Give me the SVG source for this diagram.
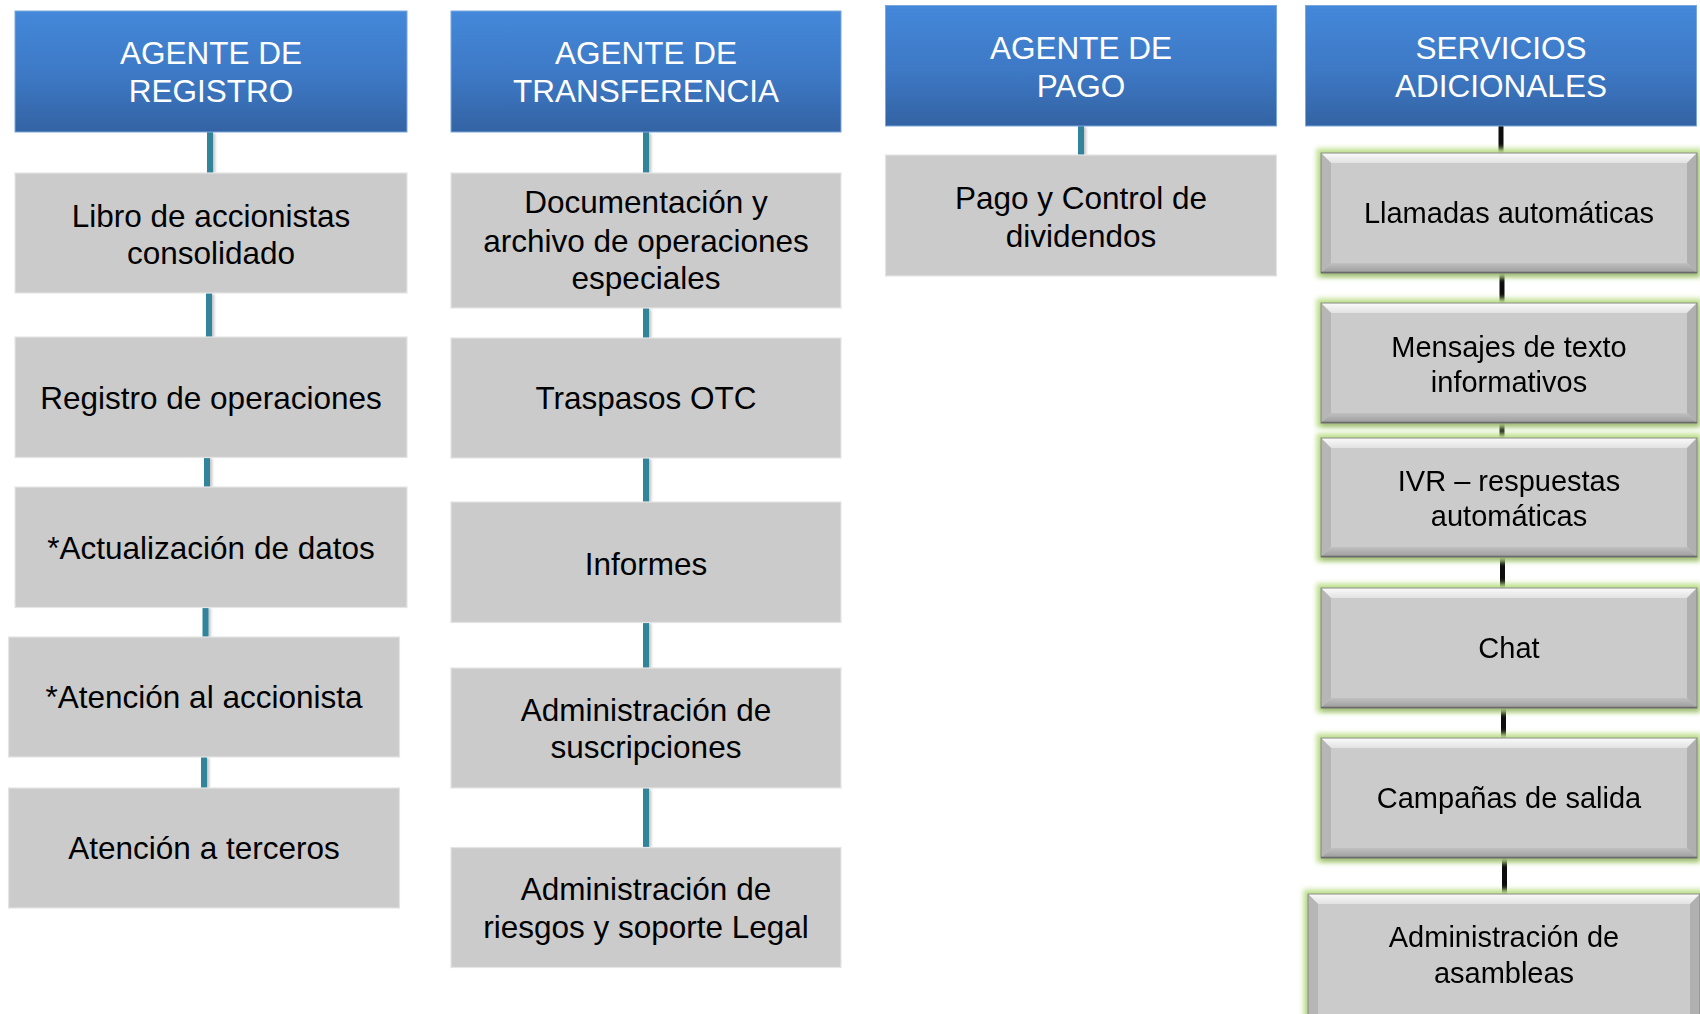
<svg xmlns="http://www.w3.org/2000/svg" width="1700" height="1014" viewBox="0 0 1700 1014">
<style>
.hdr{fill:url(#hg);stroke:#7aa7de;stroke-width:1}
.ht{font-family:"Liberation Sans",Arial,sans-serif;font-size:31.5px;fill:#ffffff;text-anchor:middle}
.box{fill:#cbcbcb;stroke:#e4e4e4;stroke-width:1.2}
.bt{font-family:"Liberation Sans",Arial,sans-serif;font-size:31.5px;fill:#000000;text-anchor:middle}
.st{font-family:"Liberation Sans",Arial,sans-serif;font-size:29px;fill:#000000;text-anchor:middle}
.tl{stroke:#31849b;stroke-width:6;fill:none}
.bl{stroke:#0d0d0d;stroke-width:5;fill:none}
.bf{fill:#cbcbcb}
.bvt{fill:url(#topg)}
.bvl{fill:#b6b6b6}
.bvr{fill:#b0b0b0}
.bvb{fill:url(#botg)}
.bo{fill:none;stroke:#858585;stroke-width:1}
.bb{stroke:#6a6a6a;stroke-width:1.5}
</style>
<defs>
<linearGradient id="hg" x1="0" y1="0" x2="0" y2="1">
<stop offset="0" stop-color="#4488da"/>
<stop offset="0.55" stop-color="#3d78c4"/>
<stop offset="1" stop-color="#3363a3"/>
</linearGradient>
<linearGradient id="topg" x1="0" y1="0" x2="0" y2="1">
<stop offset="0" stop-color="#fbfbfb"/>
<stop offset="1" stop-color="#e2e2e2"/>
</linearGradient>
<linearGradient id="botg" x1="0" y1="0" x2="0" y2="1">
<stop offset="0" stop-color="#c0c0c0"/>
<stop offset="1" stop-color="#9c9c9c"/>
</linearGradient>
<filter id="glow" x="-10%" y="-20%" width="120%" height="140%">
<feMorphology in="SourceAlpha" operator="dilate" radius="4" result="d"/>
<feGaussianBlur in="d" stdDeviation="2.5" result="b"/>
<feFlood flood-color="#bfe08f" result="c"/>
<feComposite in="c" in2="b" operator="in" result="g"/>
<feOffset in="SourceAlpha" dx="1" dy="3" result="o"/>
<feGaussianBlur in="o" stdDeviation="2" result="ob"/>
<feFlood flood-color="#5a6a4a" flood-opacity="0.4" result="sc"/>
<feComposite in="sc" in2="ob" operator="in" result="sh"/>
<feMerge><feMergeNode in="g"/><feMergeNode in="sh"/><feMergeNode in="SourceGraphic"/></feMerge>
</filter>
<filter id="lsh" x="-100%" y="-10%" width="300%" height="120%">
<feGaussianBlur in="SourceAlpha" stdDeviation="1.5" result="b"/>
<feOffset in="b" dx="1.5" dy="1" result="o"/>
<feFlood flood-color="#000" flood-opacity="0.25"/>
<feComposite in2="o" operator="in" result="s"/>
<feMerge><feMergeNode in="s"/><feMergeNode in="SourceGraphic"/></feMerge>
</filter>
</defs>
<rect width="1700" height="1014" fill="#ffffff"/>

<g id="connectors">
<g filter="url(#lsh)">
<line class="tl" x1="210" y1="132" x2="210" y2="173"/>
<line class="tl" x1="209" y1="293" x2="209" y2="337"/>
<line class="tl" x1="207" y1="457" x2="207" y2="487"/>
<line class="tl" x1="205.5" y1="607" x2="205.5" y2="637"/>
<line class="tl" x1="204" y1="757" x2="204" y2="788"/>
<line class="tl" x1="646" y1="132" x2="646" y2="173"/>
<line class="tl" x1="646" y1="308" x2="646" y2="338"/>
<line class="tl" x1="646" y1="458" x2="646" y2="502"/>
<line class="tl" x1="646" y1="622" x2="646" y2="668"/>
<line class="tl" x1="646" y1="788" x2="646" y2="847"/>
<line class="tl" x1="1081" y1="126" x2="1081" y2="155"/>
</g>
<line class="bl" x1="1501" y1="126" x2="1501" y2="153"/>
<line class="bl" x1="1502" y1="273" x2="1502" y2="303"/>
<line class="bl" x1="1502" y1="423" x2="1502" y2="438"/>
<line class="bl" x1="1502.5" y1="557" x2="1502.5" y2="588"/>
<line class="bl" x1="1503.5" y1="708" x2="1503.5" y2="738"/>
<line class="bl" x1="1504.5" y1="858" x2="1504.5" y2="894"/>
</g>

<g id="h-registro">
<rect class="hdr" x="15" y="11" width="392" height="121"/>
<text class="ht" x="211" y="64">AGENTE DE</text>
<text class="ht" x="211" y="101.7">REGISTRO</text>
</g>
<g id="h-transferencia">
<rect class="hdr" x="451" y="11" width="390" height="121"/>
<text class="ht" x="646" y="64">AGENTE DE</text>
<text class="ht" x="646" y="101.7">TRANSFERENCIA</text>
</g>
<g id="h-pago">
<rect class="hdr" x="885.5" y="5.5" width="391" height="120.5"/>
<text class="ht" x="1081" y="59.3">AGENTE DE</text>
<text class="ht" x="1081" y="96.7">PAGO</text>
</g>
<g id="h-servicios">
<rect class="hdr" x="1305.5" y="5.5" width="391" height="120.5"/>
<text class="ht" x="1501" y="59.3">SERVICIOS</text>
<text class="ht" x="1501" y="96.7">ADICIONALES</text>
</g>

<g id="n-libro">
<rect class="box" x="15" y="173" width="392" height="120"/>
<text class="bt" x="211" y="226.7">Libro de accionistas</text>
<text class="bt" x="211" y="264">consolidado</text>
</g>
<g id="n-registro-op">
<rect class="box" x="15" y="337" width="392" height="120.5"/>
<text class="bt" x="211" y="409.3">Registro de operaciones</text>
</g>
<g id="n-actualizacion">
<rect class="box" x="15" y="487" width="392" height="120.5"/>
<text class="bt" x="211" y="559.3">*Actualización de datos</text>
</g>
<g id="n-atencion-acc">
<rect class="box" x="8.5" y="637" width="391" height="120"/>
<text class="bt" x="204" y="708.3">*Atención al accionista</text>
</g>
<g id="n-atencion-ter">
<rect class="box" x="8.5" y="788" width="391" height="120"/>
<text class="bt" x="204" y="859.3">Atención a terceros</text>
</g>

<g id="n-documentacion">
<rect class="box" x="451" y="173" width="390" height="135"/>
<text class="bt" x="646" y="213.3">Documentación y</text>
<text class="bt" x="646" y="251.7">archivo de operaciones</text>
<text class="bt" x="646" y="289">especiales</text>
</g>
<g id="n-traspasos">
<rect class="box" x="451" y="338" width="390" height="120"/>
<text class="bt" x="646" y="409.3">Traspasos OTC</text>
</g>
<g id="n-informes">
<rect class="box" x="451" y="502" width="390" height="120.5"/>
<text class="bt" x="646" y="575">Informes</text>
</g>
<g id="n-suscripciones">
<rect class="box" x="451" y="668" width="390" height="120"/>
<text class="bt" x="646" y="721">Administración de</text>
<text class="bt" x="646" y="758.3">suscripciones</text>
</g>
<g id="n-riesgos">
<rect class="box" x="451" y="847.5" width="390" height="120"/>
<text class="bt" x="646" y="900">Administración de</text>
<text class="bt" x="646" y="937.7">riesgos y soporte Legal</text>
</g>

<g id="n-pago">
<rect class="box" x="885.5" y="155" width="391" height="121"/>
<text class="bt" x="1081" y="209.3">Pago y Control de</text>
<text class="bt" x="1081" y="246.7">dividendos</text>
</g>

<g id="n-llamadas" filter="url(#glow)">
<rect class="bf" x="1321" y="153" width="376" height="120"/>
<polygon class="bvt" points="1321,153 1697,153 1687,163 1331,163"/>
<polygon class="bvl" points="1321,153 1331,163 1331,263 1321,273"/>
<polygon class="bvr" points="1697,153 1697,273 1687,263 1687,163"/>
<polygon class="bvb" points="1321,273 1331,263 1687,263 1697,273"/>
<rect class="bo" x="1321" y="153" width="376" height="120"/>
<line class="bb" x1="1321" y1="272.5" x2="1697" y2="272.5"/>
<text class="st" x="1509" y="222.7">Llamadas automáticas</text>
</g>
<g id="n-mensajes" filter="url(#glow)">
<rect class="bf" x="1321" y="303" width="376" height="120"/>
<polygon class="bvt" points="1321,303 1697,303 1687,313 1331,313"/>
<polygon class="bvl" points="1321,303 1331,313 1331,413 1321,423"/>
<polygon class="bvr" points="1697,303 1697,423 1687,413 1687,313"/>
<polygon class="bvb" points="1321,423 1331,413 1687,413 1697,423"/>
<rect class="bo" x="1321" y="303" width="376" height="120"/>
<line class="bb" x1="1321" y1="422.5" x2="1697" y2="422.5"/>
<text class="st" x="1509" y="356.7">Mensajes de texto</text>
<text class="st" x="1509" y="391.7">informativos</text>
</g>
<g id="n-ivr" filter="url(#glow)">
<rect class="bf" x="1321" y="438" width="376" height="119"/>
<polygon class="bvt" points="1321,438 1697,438 1687,448 1331,448"/>
<polygon class="bvl" points="1321,438 1331,448 1331,547 1321,557"/>
<polygon class="bvr" points="1697,438 1697,557 1687,547 1687,448"/>
<polygon class="bvb" points="1321,557 1331,547 1687,547 1697,557"/>
<rect class="bo" x="1321" y="438" width="376" height="119"/>
<line class="bb" x1="1321" y1="556.5" x2="1697" y2="556.5"/>
<text class="st" x="1509" y="491">IVR – respuestas</text>
<text class="st" x="1509" y="526">automáticas</text>
</g>
<g id="n-chat" filter="url(#glow)">
<rect class="bf" x="1321" y="588" width="376" height="120"/>
<polygon class="bvt" points="1321,588 1697,588 1687,598 1331,598"/>
<polygon class="bvl" points="1321,588 1331,598 1331,698 1321,708"/>
<polygon class="bvr" points="1697,588 1697,708 1687,698 1687,598"/>
<polygon class="bvb" points="1321,708 1331,698 1687,698 1697,708"/>
<rect class="bo" x="1321" y="588" width="376" height="120"/>
<line class="bb" x1="1321" y1="707.5" x2="1697" y2="707.5"/>
<text class="st" x="1509" y="658.3">Chat</text>
</g>
<g id="n-campanas" filter="url(#glow)">
<rect class="bf" x="1321" y="738" width="376" height="120"/>
<polygon class="bvt" points="1321,738 1697,738 1687,748 1331,748"/>
<polygon class="bvl" points="1321,738 1331,748 1331,848 1321,858"/>
<polygon class="bvr" points="1697,738 1697,858 1687,848 1687,748"/>
<polygon class="bvb" points="1321,858 1331,848 1687,848 1697,858"/>
<rect class="bo" x="1321" y="738" width="376" height="120"/>
<line class="bb" x1="1321" y1="857.5" x2="1697" y2="857.5"/>
<text class="st" x="1509" y="808.3">Campañas de salida</text>
</g>
<g id="n-asambleas" filter="url(#glow)">
<rect class="bf" x="1308" y="894" width="392" height="130"/>
<polygon class="bvt" points="1308,894 1700,894 1690,904 1318,904"/>
<polygon class="bvl" points="1308,894 1318,904 1318,1024 1308,1024"/>
<polygon class="bvr" points="1700,894 1700,1024 1690,1024 1690,904"/>
<rect class="bo" x="1308" y="894" width="392" height="130"/>
<text class="st" x="1504" y="947.3">Administración de</text>
<text class="st" x="1504" y="982.7">asambleas</text>
</g>
</svg>
